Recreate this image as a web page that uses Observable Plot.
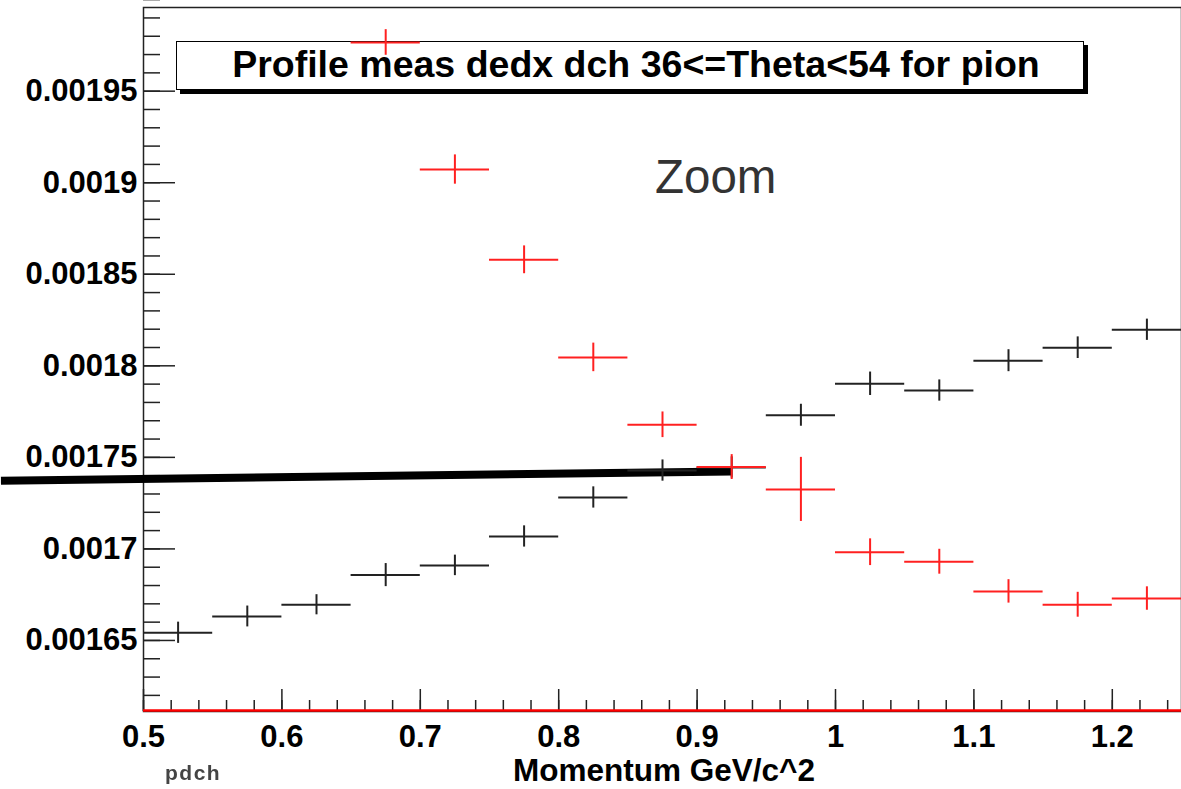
<!DOCTYPE html>
<html><head><meta charset="utf-8">
<script src="https://cdn.jsdelivr.net/npm/d3@7"></script>
<script src="https://cdn.jsdelivr.net/npm/@observablehq/plot@0.6"></script>
<style>
body{margin:0;background:#fff;}
#wrap{position:relative;width:1181px;height:789px;overflow:hidden;font-family:"Liberation Sans",Arial,sans-serif;}
#titlebox{position:absolute;left:176px;top:41px;width:906px;height:47px;border:1.5px solid #000;box-shadow:4px 4px 0 #000;background:#fff;z-index:0;}
#titletext{position:absolute;left:136px;top:46px;width:1000px;text-align:center;font-weight:bold;font-size:37.5px;line-height:1;color:#000;z-index:0;white-space:nowrap;}
#chart{position:absolute;left:0;top:0;z-index:1;}
#zoom{position:absolute;left:655px;top:153px;font-size:47.5px;line-height:1;color:#333;z-index:2;}
#xtitle{position:absolute;left:364px;top:755px;width:600px;text-align:center;font-weight:bold;font-size:31.5px;line-height:1;color:#000;z-index:2;}
#pdch{position:absolute;left:165px;top:762px;font-weight:bold;font-size:21px;line-height:1;color:#444;letter-spacing:1.5px;filter:blur(0.4px);z-index:2;}
</style>
</head><body>
<div id="wrap">
  <div id="titlebox"></div>
  <div id="titletext">Profile meas dedx dch 36&lt;=Theta&lt;54 for pion</div>
  <div id="chart"></div>
  <div id="zoom">Zoom</div>
  <div id="xtitle">Momentum GeV/c^2</div>
  <div id="pdch">pdch</div>
</div>
<script>
// ---- data ----
const xDomain = [0.5, 1.25];
const yDomain = [0.0016112, 0.0019957];
const binHalfWidth = 0.025;

const blackP = [0.525,0.575,0.625,0.675,0.725,0.775,0.825,0.875,0.925,0.975,1.025,1.075,1.125,1.175,1.225];
const blackMean = [0.0016542,0.0016631,0.0016695,0.0016857,0.0016910,0.0017068,0.0017281,0.0017428,0.0017445,0.0017730,0.0017902,0.0017865,0.0018028,0.0018099,0.0018197];
const blackErr = [0.0000058,0.0000057,0.0000055,0.0000063,0.0000056,0.0000058,0.0000058,0.0000058,0.0000058,0.0000060,0.0000064,0.0000058,0.0000060,0.0000059,0.0000058];

const redP = [0.675,0.725,0.775,0.825,0.875,0.925,0.975,1.025,1.075,1.125,1.175,1.225];
const redMean = [0.0019766,0.0019072,0.0018579,0.0018046,0.0017678,0.0017447,0.0017325,0.0016982,0.0016930,0.0016768,0.0016695,0.0016729];
const redErr = [0.0000070,0.0000080,0.0000076,0.0000078,0.0000070,0.0000068,0.0000175,0.0000073,0.0000068,0.0000064,0.0000068,0.0000064];

const fitP = [0.397, 0.925];
const fitV = [0.0017372, 0.0017423];

const xMajorTicks = [0.5,0.6,0.7,0.8,0.9,1.0,1.1,1.2];
const xTickLabels = ["0.5","0.6","0.7","0.8","0.9","1","1.1","1.2"];
const yMajorTicks = [0.00165,0.0017,0.00175,0.0018,0.00185,0.0019,0.00195];
const yTickLabels = ["0.00165","0.0017","0.00175","0.0018","0.00185","0.0019","0.00195"];
const xMinorTicks = d3.range(0, 38).map(i => 0.5 + i * 0.02);
const yMinorTicks = d3.range(0, 39).map(i => 0.00162 + i * 0.00001);

const black = blackP.map((p, i) => ({p, v: blackMean[i], e: blackErr[i]}));
const red = redP.map((p, i) => ({p, v: redMean[i], e: redErr[i]}));
const fit = fitP.map((p, i) => ({p, v: fitV[i]}));

const hBar = (data, stroke) => Plot.ruleY(data, {y: "v", x1: d => d.p - binHalfWidth, x2: d => d.p + binHalfWidth, stroke, strokeWidth: 2});
const vBar = (data, stroke) => Plot.ruleX(data, {x: "p", y1: d => d.v - d.e, y2: d => d.v + d.e, stroke, strokeWidth: 2});

const chart = Plot.plot({
  width: 1181, height: 789,
  marginLeft: 143, marginRight: 0, marginTop: 7, marginBottom: 78,
  style: {background: "transparent", fontFamily: "Liberation Sans, Arial, sans-serif", color: "#000", overflow: "visible"},
  x: {domain: xDomain, label: null},
  y: {domain: yDomain, label: null},
  marks: [
    Plot.frame({stroke: "#222", strokeWidth: 1.5}),
    Plot.axisY(yMinorTicks, {tickSize: -17, tickFormat: () => "", stroke: "#222", strokeWidth: 1.5}),
    Plot.axisY(yMajorTicks, {tickSize: -32, tickPadding: 38, stroke: "#222", strokeWidth: 1.5,
      tickFormat: d => yTickLabels[yMajorTicks.indexOf(d)], fontSize: 31, fontWeight: "bold", fill: "#000", letterSpacing: "0.7px"}),
    Plot.axisX(xMinorTicks, {tickSize: -11, tickFormat: () => "", stroke: "#222", strokeWidth: 1.5}),
    Plot.axisX(xMajorTicks, {tickSize: -22, tickPadding: 35, stroke: "#222", strokeWidth: 1.5,
      tickFormat: d => xTickLabels[xMajorTicks.indexOf(d)], fontSize: 31, fontWeight: "bold", fill: "#000"}),
    Plot.ruleY([yDomain[0]], {stroke: "#ff0000", strokeWidth: 2.5, dy: -1}),
    Plot.line(fit, {x: "p", y: "v", stroke: "#000", strokeWidth: 8, strokeLinecap: "butt"}),
    hBar(black, "#222"), vBar(black, "#222"),
    hBar(red, "#ff2020"), vBar(red, "#ff2020")
  ]
});
document.getElementById("chart").appendChild(chart);
</script>
</body></html>
